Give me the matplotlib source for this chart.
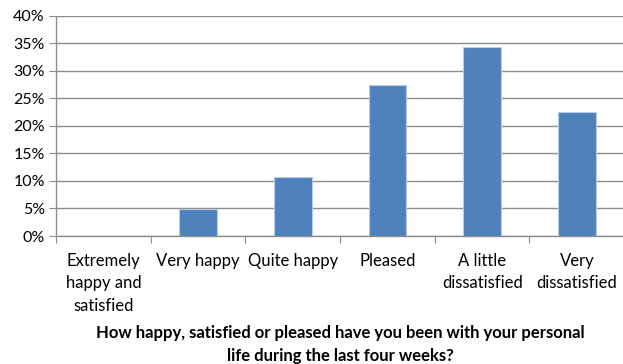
import numpy as np
import matplotlib.pyplot as plt
from matplotlib.ticker import MultipleLocator, FuncFormatter

plt.rcParams['font.family'] = ['Lato', 'DejaVu Sans']

categories = ['Extremely\nhappy and\nsatisfied', 'Very happy', 'Quite happy',
              'Pleased', 'A little\ndissatisfied', 'Very\ndissatisfied']
shares = [0.0, 4.9, 10.8, 27.4, 34.3, 22.6]

#==================================
def DrawFig(filename):
  fig = plt.figure(figsize=(6.23, 3.64), dpi=100)
  ax = fig.add_axes([0.0899, 0.3516, 0.912, 0.6054])

  x = np.arange(len(categories))
  ax.bar(x, shares, width=0.4, color='#4f81bd', edgecolor='#b9cde5',
         linewidth=0.8, zorder=3)

  ax.set_xlim(-0.5, len(categories) - 0.5)
  ax.set_ylim(0, 40)
  ax.yaxis.set_major_locator(MultipleLocator(5))
  ax.yaxis.set_major_formatter(FuncFormatter(lambda v, p: '%d%%' % v))
  ax.grid(axis='y', color='#8c8c8c', linewidth=1.0, zorder=0)

  # category boundaries carry the tick marks, labels sit at the centres
  ax.set_xticks(np.arange(len(categories) + 1) - 0.5)
  ax.set_xticklabels([])
  ax.set_xticks(x, minor=True)
  ax.set_xticklabels(categories, minor=True, fontsize=12, linespacing=1.52)
  ax.tick_params(axis='x', which='minor', length=0, pad=12)
  ax.tick_params(axis='x', which='major', length=5, color='#8c8c8c')
  ax.tick_params(axis='y', length=5, color='#8c8c8c', labelsize=11.5, pad=3)

  for side in ['top', 'right']:
    ax.spines[side].set_visible(False)
  for side in ['left', 'bottom']:
    ax.spines[side].set_color('#8c8c8c')
    ax.spines[side].set_linewidth(1.0)

  ax.set_xlabel('How happy, satisfied or pleased have you been with your personal\n'
                'life during the last four weeks?',
                fontsize=12, fontweight='bold', linespacing=1.5, labelpad=8)

  plt.savefig(filename, dpi=100)
  return

#==================================
def main():
  DrawFig('out.png')
  return

if __name__ == '__main__':
  main()
